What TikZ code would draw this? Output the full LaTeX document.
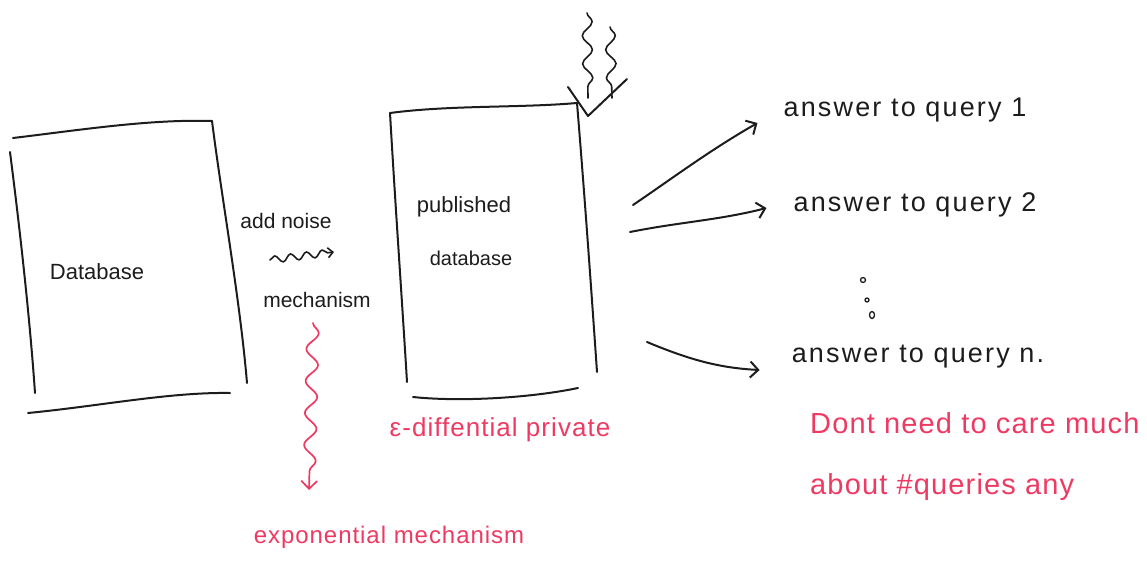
\documentclass[tikz,border=0pt]{standalone}
\usepackage{fontspec}
\setmainfont{Liberation Sans}
\usetikzlibrary{decorations.pathmorphing,arrows.meta,shapes.geometric}
\definecolor{ink}{RGB}{28,28,28}
\definecolor{redink}{RGB}{238,58,98}
\begin{document}
\begin{tikzpicture}[x=1pt,y=-1pt,
  pen/.style={draw=ink,line width=2pt,line cap=round,line join=round},
  redpen/.style={draw=redink,line width=1.7pt,line cap=round,line join=round},
  hand/.style={text=ink,inner sep=0pt,font=\fontsize{#1}{#1}\selectfont},
  qtext/.style={text=ink,inner sep=0pt,font=\fontsize{27}{27}\selectfont\addfontfeature{LetterSpace=8}},
  redhand/.style={text=redink,inner sep=0pt,font=\fontsize{#1}{#1}\selectfont\addfontfeature{LetterSpace=4}},
  barb/.style={-{Straight Barb[length=8pt,width=16pt,line width=2pt]}},
  arr/.style={pen,barb}
]
\useasboundingbox (0,0) rectangle (1147,562);

% ---- Database box
\coordinate (d1) at (13,138); \coordinate (d2) at (212,121);
\coordinate (d3) at (10,152); \coordinate (d4) at (35,393);
\coordinate (d5) at (247,383); \coordinate (d6) at (28,413); \coordinate (d7) at (230,393);
\draw[pen] (d1) .. controls (80,130) and (150,119) .. (d2);
\draw[pen] (d3) .. controls (20,230) and (30,320) .. (d4);
\draw[pen] (d2) .. controls (222,200) and (240,300) .. (d5);
\draw[pen] (d6) .. controls (100,406) and (170,392) .. (d7);
\node[hand=22] (db) at (97,272) {Database};

% ---- add noise / mechanism
\node[hand=21] (addn) at (286,221) {add noise};
\node[hand=21] (mech) at (317,300) {mechanism};
\coordinate (n1) at (270,260); \coordinate (n2) at (334,252);
\draw[pen,line width=1.6pt,-{Straight Barb[length=5pt,width=10pt,line width=1.6pt]},
  decorate,decoration={snake,segment length=16pt,amplitude=3.5pt,post length=5pt}] (n1) -- (n2);

% ---- red squiggle to exponential mechanism
\node[redhand=24] (expo) at (389,537) {exponential mechanism};
\coordinate (s1) at (313,323); \coordinate (s2) at (309,490);
\draw[redpen,-{Straight Barb[length=8pt,width=16pt,line width=1.7pt]},
  decorate,decoration={snake,segment length=32pt,amplitude=6pt,post length=10pt}] (s1) -- (s2);

% ---- published database box
\coordinate (p1) at (390,113); \coordinate (p2) at (577,103);
\coordinate (p3) at (407,382); \coordinate (p4) at (597,372);
\coordinate (p5) at (413,397); \coordinate (p6) at (578,388);
\draw[pen] (p1) .. controls (450,105) and (520,108) .. (p2);
\draw[pen] (p1) .. controls (395,200) and (402,300) .. (p3);
\draw[pen] (p2) .. controls (585,200) and (592,300) .. (p4);
\draw[pen] (p5) .. controls (460,402) and (530,398) .. (p6);
\node[hand=22] (pub1) at (464,207) {published};
\node[hand=20] (pub2) at (471,258) {database};
\node[redhand=26] (eps) at (500,430) {ε-diffential private};

% ---- noise pouring in at top
\coordinate (v1) at (568,87); \coordinate (v2) at (588,116); \coordinate (v3) at (627,79);
\draw[pen] (v1) -- (v2) -- (v3);
\coordinate (w1) at (587,13); \coordinate (w2) at (588,98);
\coordinate (w3) at (610,27); \coordinate (w4) at (612,98);
\draw[pen,line width=1.6pt,decorate,decoration={snake,segment length=28pt,amplitude=5pt}] (w1) -- (w2);
\draw[pen,line width=1.6pt,decorate,decoration={snake,segment length=28pt,amplitude=5pt}] (w3) -- (w4);

% ---- answers
\node[qtext] (q1) at (905,110) {answer to query 1};
\node[qtext] (q2) at (915,205) {answer to query 2};
\node[qtext] (qn) at (918,357) {answer to query n.};
\coordinate (o1) at (633,205); \coordinate (o2) at (630,232); \coordinate (o3) at (647,342);
\draw[arr] (o1) .. controls (670,180) and (710,150) .. ([shift={(-26,13)}]q1.west);
\draw[arr] (o2) .. controls (680,222) and (720,220) .. ([shift={(-27,3)}]q2.west);
\draw[arr] (o3) .. controls (690,360) and (720,368) .. ([shift={(-32,13)}]qn.west);
\node[draw=ink,line width=1.3pt,circle,inner sep=0pt,minimum size=5pt] (dot1) at (863,280) {};
\node[draw=ink,line width=1.3pt,circle,inner sep=0pt,minimum size=4pt] (dot2) at (867,300) {};
\node[draw=ink,line width=1.3pt,ellipse,inner sep=0pt,minimum width=5pt,minimum height=7pt] (dot3) at (872,315) {};

% ---- red note
\node[redhand=29,anchor=west] (note1) at (810,423) {Dont need to care much};
\node[redhand=29,anchor=west] (note2) at (810,487) {about \#queries any};
\end{tikzpicture}
\end{document}
